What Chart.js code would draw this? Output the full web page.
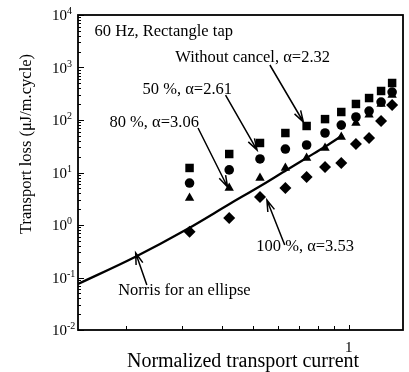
<!DOCTYPE html>
<html lang="en">
<head>
  <meta charset="UTF-8">
  <title>Transport loss</title>
  <script src="https://cdn.jsdelivr.net/npm/chart.js"></script>
  <style>
    html, body { margin: 0; padding: 0; background: #fff; }
    .chart-container { width: 409px; height: 372px; }
  </style>
</head>
<body>
  <div class="chart-container">
    <canvas id="lossChart"></canvas>
  </div>
  <script>
    // normalized transport current of the measured points
    const current = [0.316, 0.421, 0.526, 0.632, 0.737, 0.842, 0.947, 1.053, 1.158, 1.263, 1.368];
    // transport loss, uJ/m.cycle
    const noCancel = [12.2, 22.5, 36.5, 56.5, 76.9, 104, 142, 202, 262, 357, 507];
    const cancel50 = [6.3, 11.2, 18.1, 28, 33.4, 56.5, 80, 114, 148, 220, 341];
    const cancel80 = [3.27, 5.07, 7.86, 12.2, 18.9, 29.3, 47.4, 87.7, 125, 202, 299];
    const cancel100 = [0.74, 1.36, 3.41, 5.07, 8.2, 12.7, 15.2, 34.9, 45.4, 95.7, 193];
    // Norris curve for an ellipse
    const norrisI = [0.141, 0.213, 0.311, 0.422, 0.534, 0.638, 0.736, 0.849, 0.958];
    const norrisQ = [0.0752, 0.246, 0.839, 2.51, 5.78, 11.2, 18.9, 32.0, 51.8];

    const yExponents = [-2, -1, 0, 1, 2, 3, 4];
    const xTickValues = [0.2, 0.3, 0.4, 0.5, 0.6, 0.7, 0.8, 0.9, 1];
    const xTickLabels = ['1'];

    const serif = '"Liberation Serif", "Times New Roman", serif';

    // text and arrows, in data units
    const notes = [
      { text: '60 Hz, Rectangle tap', x: 0.159, y: 4743 },
      { text: 'Without cancel, \u03b1=2.32', x: 0.285, y: 1520, from: [0.565, 1116], to: [0.720, 91.6] },
      { text: '50 %, \u03b1=2.61', x: 0.225, y: 380, from: [0.410, 299], to: [0.515, 26.8] },
      { text: '80 %, \u03b1=3.06', x: 0.177, y: 87.7, from: [0.336, 70.4], to: [0.416, 5.29] },
      { text: '100 %, \u03b1=3.53', x: 0.512, y: 0.381, from: [0.629, 0.416], to: [0.553, 2.99] },
      { text: 'Norris for an ellipse', x: 0.1886, y: 0.056, from: [0.232, 0.072], to: [0.214, 0.293] }
    ];

    function toPoints(xs, ys) {
      return xs.map((x, i) => ({ x: x, y: ys[i] }));
    }

    function arrow(ctx, x1, y1, x2, y2) {
      const ang = Math.atan2(y2 - y1, x2 - x1);
      const len = 12, spread = 0.3;
      ctx.beginPath();
      ctx.moveTo(x1, y1);
      ctx.lineTo(x2, y2);
      ctx.moveTo(x2 - len * Math.cos(ang - spread), y2 - len * Math.sin(ang - spread));
      ctx.lineTo(x2, y2);
      ctx.lineTo(x2 - len * Math.cos(ang + spread), y2 - len * Math.sin(ang + spread));
      ctx.stroke();
    }

    const decorations = {
      id: 'decorations',
      afterDraw(chart) {
        const ctx = chart.ctx;
        const xs = chart.scales.x, ys = chart.scales.y;
        const a = chart.chartArea;
        ctx.save();
        ctx.strokeStyle = '#000';
        ctx.fillStyle = '#000';

        // frame
        ctx.lineWidth = 1.8;
        ctx.strokeRect(a.left, a.top, a.right - a.left, a.bottom - a.top);

        // y ticks, pointing inwards
        ctx.lineWidth = 1;
        ctx.beginPath();
        yExponents.forEach(e => {
          for (let m = 1; m <= 9; m++) {
            const v = m * Math.pow(10, e);
            if (v > 1e4) break;
            const py = Math.round(ys.getPixelForValue(v)) + 0.5;
            const len = m === 1 ? 6 : 3;
            ctx.moveTo(a.left, py);
            ctx.lineTo(a.left + len, py);
          }
        });
        ctx.stroke();

        // x ticks, pointing up
        ctx.beginPath();
        xTickValues.forEach(v => {
          const px = Math.round(xs.getPixelForValue(v)) + 0.5;
          ctx.moveTo(px, a.bottom);
          ctx.lineTo(px, a.bottom - (v === 1 ? 5 : 4));
        });
        ctx.stroke();

        // y tick labels 10^n
        ctx.textBaseline = 'alphabetic';
        yExponents.forEach(e => {
          const py = ys.getPixelForValue(Math.pow(10, e));
          const exp = String(e);
          ctx.font = '10px ' + serif;
          const ew = ctx.measureText(exp).width;
          ctx.textAlign = 'right';
          ctx.fillText(exp, a.left - 11 + ew, py - 1);
          ctx.font = '15px ' + serif;
          ctx.fillText('10', a.left - 11, py + 5);
        });

        // x tick label
        ctx.font = '15px ' + serif;
        ctx.textAlign = 'center';
        xTickLabels.forEach(t => {
          ctx.fillText(t, xs.getPixelForValue(Number(t)), a.bottom + 22);
        });

        // axis titles
        ctx.font = '20px ' + serif;
        ctx.fillText('Normalized transport current', 243, 367);
        ctx.save();
        ctx.translate(31, 144);
        ctx.rotate(-Math.PI / 2);
        ctx.font = '16.5px ' + serif;
        ctx.fillText('Transport loss (\u03bcJ/m.cycle)', 0, 0);
        ctx.restore();

        // notes and arrows
        ctx.font = '16.5px ' + serif;
        ctx.textAlign = 'left';
        ctx.textBaseline = 'middle';
        ctx.lineWidth = 1.5;
        notes.forEach(n => {
          ctx.fillText(n.text, xs.getPixelForValue(n.x), ys.getPixelForValue(n.y));
          if (n.from) {
            arrow(ctx,
              xs.getPixelForValue(n.from[0]), ys.getPixelForValue(n.from[1]),
              xs.getPixelForValue(n.to[0]), ys.getPixelForValue(n.to[1]));
          }
        });
        ctx.restore();
      }
    };

    const marker = { backgroundColor: '#000', borderColor: '#000', borderWidth: 0, showLine: false };

    new Chart(document.getElementById('lossChart'), {
      type: 'scatter',
      data: {
        datasets: [
          { ...marker, label: 'Without cancel', data: toPoints(current, noCancel), pointStyle: 'rect', pointRadius: 6 },
          { ...marker, label: '50 %', data: toPoints(current, cancel50), pointStyle: 'circle', pointRadius: 4.8 },
          { ...marker, label: '80 %', data: toPoints(current, cancel80), pointStyle: 'triangle', pointRadius: 5.4 },
          { ...marker, label: '100 %', data: toPoints(current, cancel100), pointStyle: 'rectRot', pointRadius: 6 },
          {
            label: 'Norris for an ellipse',
            data: toPoints(norrisI, norrisQ),
            showLine: true,
            borderColor: '#000',
            borderWidth: 2.3,
            pointRadius: 0,
            cubicInterpolationMode: 'monotone',
            fill: false
          }
        ]
      },
      options: {
        responsive: true,
        maintainAspectRatio: false,
        animation: false,
        layout: { padding: { left: 78, top: 15, right: 1, bottom: 42 } },
        plugins: { legend: { display: false }, tooltip: { enabled: false } },
        scales: {
          x: { type: 'logarithmic', min: 0.141, max: 1.48, display: false },
          y: { type: 'logarithmic', min: 0.01, max: 10000, display: false }
        }
      },
      plugins: [decorations]
    });
  </script>
</body>
</html>
